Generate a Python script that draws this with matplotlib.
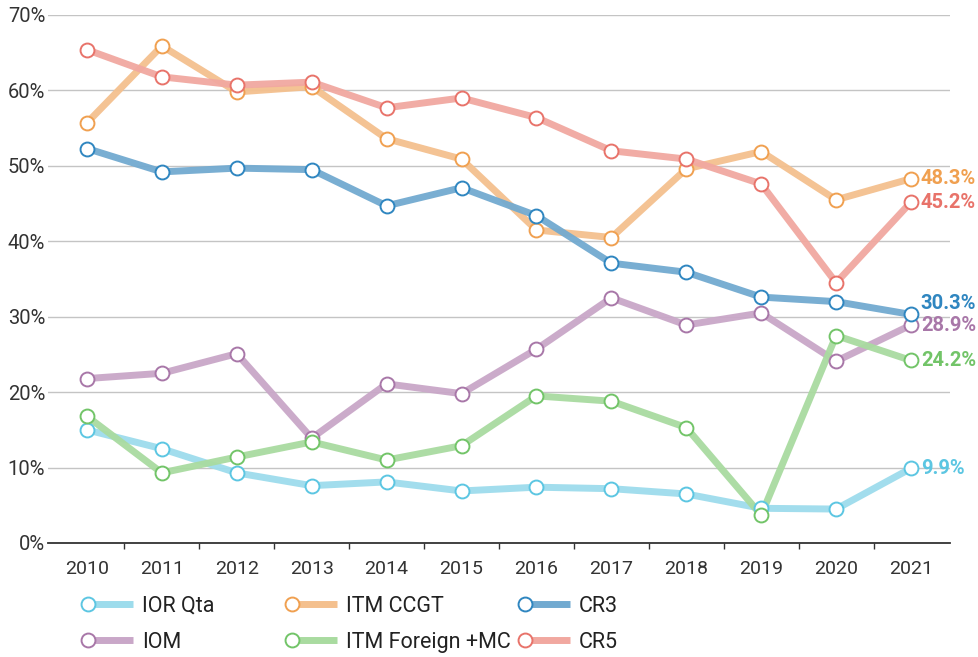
import matplotlib
matplotlib.use("Agg")
from matplotlib import pyplot as plt
from matplotlib.lines import Line2D
from matplotlib.legend_handler import HandlerBase

plt.rcParams['font.family'] = ['Roboto', 'DejaVu Sans']

years = list(range(2010, 2022))
ior_qta = [15.0, 12.5, 9.3, 7.6, 8.1, 6.9, 7.4, 7.2, 6.5, 4.6, 4.5, 9.9]
itm_ccgt = [55.7, 65.9, 59.8, 60.5, 53.6, 50.9, 41.5, 40.5, 49.6, 51.9, 45.5, 48.3]
cr3 = [52.3, 49.2, 49.7, 49.5, 44.7, 47.1, 43.4, 37.1, 35.9, 32.6, 32.0, 30.3]
iom = [21.8, 22.5, 25.1, 13.9, 21.1, 19.8, 25.7, 32.5, 28.9, 30.5, 24.1, 28.9]
itm_foreign = [16.8, 9.3, 11.4, 13.4, 11.0, 12.9, 19.5, 18.8, 15.3, 3.7, 27.5, 24.2]
cr5 = [65.4, 61.8, 60.7, 61.1, 57.7, 59.0, 56.4, 52.0, 50.9, 47.6, 34.5, 45.2]

# name, values, line colour, marker edge colour, end label nudge (pt)
series = [
    ('IOR Qta', ior_qta, '#9ddcec', '#5cc6e2', 0),
    ('IOM', iom, '#c9a7c8', '#a877a8', 0),
    ('ITM CCGT', itm_ccgt, '#f4c08e', '#f0a050', 0),
    ('ITM Foreign +MC', itm_foreign, '#a9dba0', '#72c468', 0),
    ('CR3', cr3, '#72aad0', '#2f86c0', 8),
    ('CR5', cr5, '#f1a8a0', '#e8736a', 0),
]


class MarkerLeft(HandlerBase):
    def create_artists(self, legend, orig, xdescent, ydescent, width, height, fontsize, trans):
        y = height / 2 - ydescent
        x0 = -xdescent
        ln = Line2D([x0, x0 + width], [y, y], color=orig.get_color(), lw=orig.get_linewidth(),
                    solid_capstyle='butt')
        mk = Line2D([x0], [y], marker='o', ms=orig.get_markersize(), mfc='white',
                    mec=orig.get_markeredgecolor(), mew=1.4, ls='none')
        ln.set_transform(trans)
        mk.set_transform(trans)
        return [ln, mk]


fig = plt.figure(figsize=(9.79, 6.57), dpi=100)
ax = fig.add_axes([48 / 979, 1 - 543 / 657, 902 / 979, 528 / 657])

handles = {}
for name, vals, lc, mc, nudge in series:
    ax.plot(years, vals, color=lc, lw=5, solid_joinstyle='round', zorder=2, alpha=0.95)
    ax.plot(years, vals, ls='none', marker='o', ms=10, mfc='white', mec=mc, mew=1.4, zorder=3)
    ax.annotate(f'{vals[-1]:.1f}%', (years[-1], vals[-1]), xytext=(7, nudge),
                textcoords='offset points', va='center', ha='left', fontsize=14.5,
                fontweight='bold', color=mc, annotation_clip=False)
    handles[name] = Line2D([], [], color=lc, lw=5, ms=10, mec=mc)

ax.set_ylim(0, 70)
ax.set_xlim(2009.48, 2021.52)
ax.set_yticks(range(0, 71, 10))
ax.set_yticklabels([f'{v}%' for v in range(0, 71, 10)])
ax.set_xticks(years)
ax.set_xticks([y + 0.5 for y in years[:-1]], minor=True)
ax.tick_params(axis='x', which='major', length=0, pad=12, labelsize=14, labelcolor='#333333')
ax.tick_params(axis='x', which='minor', length=4, width=1, color='#333333', direction='out')
ax.tick_params(axis='y', length=0, pad=2, labelsize=14.5, labelcolor='#333333')
ax.grid(axis='y', color='#c4c4c4', lw=1)
ax.set_axisbelow(True)
for s in ['top', 'right', 'left']:
    ax.spines[s].set_visible(False)
ax.spines['bottom'].set_color('#333333')
ax.spines['bottom'].set_linewidth(1.3)
ax.spines['bottom'].set_zorder(5)

cols = [(['IOR Qta', 'IOM'], 88), (['ITM CCGT', 'ITM Foreign +MC'], 292), (['CR3', 'CR5'], 525)]
for names, x in cols:
    leg = fig.legend([handles[n] for n in names], names, loc='upper left',
                     bbox_to_anchor=(x / 979, 1 - 596 / 657), frameon=False, fontsize=15.5,
                     handlelength=2.1, handletextpad=0.4, labelspacing=0.68,
                     borderaxespad=0, borderpad=0, handler_map={Line2D: MarkerLeft()})
    for t in leg.get_texts():
        t.set_color('#222222')

fig.savefig('out.png', dpi=100)
